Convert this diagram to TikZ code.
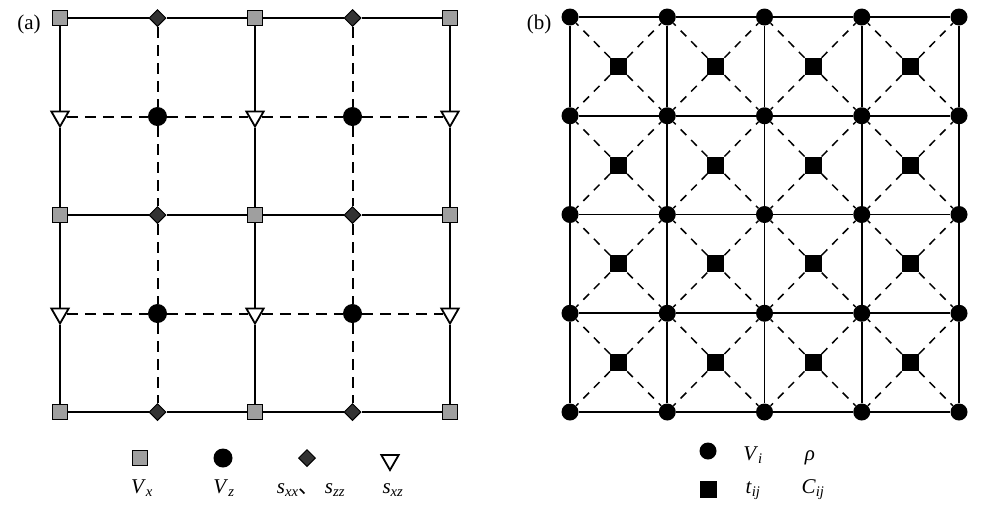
\documentclass[tikz,border=0pt]{standalone}
\usepackage{fontspec}
\setmainfont{Liberation Serif}
\newfontfamily\cjk{Noto Sans CJK SC}
\usetikzlibrary{shapes.geometric}
\newcommand{\sym}[2]{\textit{#1}\textsubscript{\textit{#2}}}
\tikzset{
  sol/.style={line width=2.2pt},
  dsh/.style={line width=2pt, dash pattern=on 11pt off 7pt},
  solb/.style={line width=1.7pt},
  dshb/.style={line width=1.5pt, dash pattern=on 8pt off 7pt},
  vx/.style={draw, line width=1.6pt, fill=gray!75, minimum size=15pt, inner sep=0pt},
  vz/.style={circle, fill=black, minimum size=19pt, inner sep=0pt},
  sxx/.style={diamond, draw, line width=1pt, fill=black!80, minimum size=17pt, inner sep=0pt},
  sxz/.style={regular polygon, regular polygon sides=3, shape border rotate=180, draw, fill=white, line width=1.8pt, minimum size=20pt, inner sep=0pt},
  vi/.style={circle, fill=black, minimum size=17pt, inner sep=0pt},
  tij/.style={fill=black, minimum size=17pt, inner sep=0pt},
  lbl/.style={font=\fontsize{21}{25}\selectfont, inner sep=0pt, anchor=base}
}
\begin{document}
\begin{tikzpicture}[x=1pt, y=-1pt]
\useasboundingbox (0,0) rectangle (1006,531);
% (a)
\node[lbl] (la) at (29,29) {(a)};
\foreach \i in {0,...,4}
  \foreach \j in {0,...,4} {
    \ifodd\i \ifodd\j\def\kind{vz}\else\def\kind{sxx}\fi
    \else \ifodd\j\def\kind{sxz}\else\def\kind{vx}\fi \fi
    \node[\kind] (a\i\j) at (60+97.5*\i, 18+98.5*\j) {};
  }
\foreach \i [evaluate=\i as \k using int(\i+1)] in {0,...,3}
  \foreach \j in {0,...,4} {
    \ifodd\j\def\ls{dsh}\else\def\ls{sol}\fi
    \draw[\ls] (a\i\j) -- (a\k\j);
    \draw[\ls] (a\j\i) -- (a\j\k);
  }
% (b)
\node[lbl] (lb) at (539,29) {(b)};
\foreach \i in {0,...,4}
  \foreach \j in {0,...,4}
    \node[vi] (b\i\j) at (570+97.25*\i, 17+98.75*\j) {};
\foreach \i [evaluate=\i as \k using int(\i+1)] in {0,...,3}
  \foreach \j in {0,...,4} {
    \draw[solb] (b\i\j) -- (b\k\j);
    \draw[solb] (b\j\i) -- (b\j\k);
  }
\foreach \i in {0,...,3}
  \foreach \j in {0,...,3} {
    \pgfmathtruncatemacro\ni{\i+1}
    \pgfmathtruncatemacro\nj{\j+1}
    \node[tij] (c\i\j) at (570+97.25*\i+48.6, 17+98.75*\j+49.4) {};
    \draw[dshb] (c\i\j) -- (b\i\j);
    \draw[dshb] (c\i\j) -- (b\ni\j);
    \draw[dshb] (c\i\j) -- (b\i\nj);
    \draw[dshb] (c\i\j) -- (b\ni\nj);
  }
% legend
\node[vx] (kvx) at (140,458) {};
\node[vz] (kvz) at (223,458) {};
\node[sxx] (ksxx) at (307,458) {};
\node[sxz] (ksxz) at (390,460) {};
\node[lbl] (tvx) at (142,493) {\sym{V}{x}};
\node[lbl] (tvz) at (224,493) {\sym{V}{z}};
\node[lbl] (tsxx) at (311,493) {\sym{s}{xx}{\cjk 、}\ \sym{s}{zz}};
\node[lbl] (tsxz) at (393,493) {\sym{s}{xz}};
\node[vi] (kvi) at (708,451) {};
\node[tij] (ktij) at (708,489) {};
\node[lbl] (tvi) at (753,460) {\sym{V}{i}};
\node[lbl] (trho) at (810,460) {\textit{ρ}};
\node[lbl] (ttij) at (753,493) {\sym{t}{ij}};
\node[lbl] (tcij) at (813,493) {\sym{C}{ij}};
\end{tikzpicture}
\end{document}
